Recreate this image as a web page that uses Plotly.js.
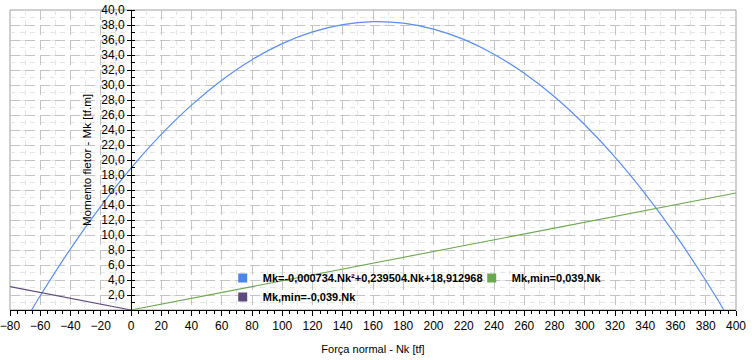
<!DOCTYPE html>
<html>
<head>
<meta charset="utf-8">
<script src="https://cdn.plot.ly/plotly-3.0.1.min.js"></script>
<style>html,body{margin:0;padding:0;background:#fff;}#chart{width:755px;height:360px;}</style>
</head>
<body>
<div id="chart"></div>
<script>
// Quadratic curve Mk(Nk)
var curveN  = [-65.7, -60, -40, -20, 0, 20, 40, 60, 80, 100, 120, 140, 160, 180, 200, 220, 240, 260, 280, 300, 320, 340, 360, 380, 392];
var curveMk = [0, 1.9, 8.16, 13.83, 18.91, 23.41, 27.32, 30.64, 33.38, 35.52, 37.08, 38.06, 38.44, 38.24, 37.45, 36.08, 34.11, 31.56, 28.43, 24.70, 20.39, 15.49, 10.01, 3.93, 0];
// Mk,min = 0,039.Nk
var posN  = [0, 400];
var posMk = [0, 15.6];
// Mk,min = -0,039.Nk
var negN  = [-80, 0];
var negMk = [3.12, 0];

var names = ['Mk=-0,000734.Nk²+0,239504.Nk+18,912968', 'Mk,min=0,039.Nk', 'Mk,min=-0,039.Nk'];
var colors = ['#4a86e8', '#6aa84f', '#604a7b'];

// y tick labels
var yTickVals = [2, 4, 6, 8, 10, 12, 14, 16, 18, 20, 22, 24, 26, 28, 30, 32, 34, 36, 38, 40];
var yTickText = ['2,0', '4,0', '6,0', '8,0', '10,0', '12,0', '14,0', '16,0', '18,0', '20,0', '22,0', '24,0', '26,0', '28,0', '30,0', '32,0', '34,0', '36,0', '38,0', '40,0'];

var traces = [
  {x: curveN, y: curveMk, mode: 'lines', line: {color: '#5a8ef0', width: 1.2, shape: 'spline'}, showlegend: false, hoverinfo: 'skip'},
  {x: posN, y: posMk, mode: 'lines', line: {color: '#6aa84f', width: 1.1}, showlegend: false, hoverinfo: 'skip'},
  {x: negN, y: negMk, mode: 'lines', line: {color: '#604a7b', width: 1.1}, showlegend: false, hoverinfo: 'skip'},
  {x: [null], y: [null], xaxis: 'x2', mode: 'lines', showlegend: false, hoverinfo: 'skip'}
];
for (var i = 0; i < names.length; i++) {
  traces.push({x: [null], y: [null], mode: 'markers', name: names[i],
    marker: {symbol: 'square', size: 9, color: colors[i]}, showlegend: true});
}

var layout = {
  width: 755, height: 360,
  margin: {l: 10, r: 19, t: 10, b: 50},
  paper_bgcolor: '#ffffff', plot_bgcolor: '#ffffff',
  separators: ',.',
  font: {family: 'Liberation Sans, Arial, sans-serif', size: 11, color: '#000'},
  showlegend: true,
  legend: {
    orientation: 'h', x: 0.293, y: 0.155, xanchor: 'left', yanchor: 'top',
    bgcolor: 'rgba(0,0,0,0)', entrywidth: 204, entrywidthmode: 'pixels',
    font: {family: 'Liberation Sans, Arial, sans-serif', size: 11, color: '#000', weight: 'bold'},
    itemwidth: 30, tracegroupgap: 0
  },
  xaxis: {
    range: [-80, 400], dtick: 20, tick0: 0,
    showline: true, linecolor: '#000', linewidth: 1,
    ticks: 'outside', ticklen: 5, tickcolor: '#000',
    showgrid: true, gridcolor: '#c4c4c4', griddash: '10px,5px', gridwidth: 1,
    minor: {dtick: 10, ticks: '', showgrid: true, gridcolor: '#e6e6e6', griddash: '5px,5px', gridwidth: 1},
    zeroline: false, ticklabeloverflow: 'allow',
    tickfont: {size: 12, color: '#000'},
    title: {text: 'Força normal - Nk [tf]', font: {size: 11, color: '#000'}, standoff: 12}
  },
  xaxis2: {
    overlaying: 'x', anchor: 'y', side: 'bottom', range: [-80, 400],
    showgrid: false, zeroline: false, showline: false, showticklabels: false,
    dtick: 5, tick0: 0, ticks: 'outside', ticklen: 3, tickcolor: '#000'
  },
  yaxis: {
    range: [0, 40], tickmode: 'array', tickvals: yTickVals, ticktext: yTickText,
    anchor: 'free', position: 80 / 480,
    showline: true, linecolor: '#000', linewidth: 1,
    ticks: 'outside', ticklen: 4, tickcolor: '#000',
    showgrid: true, gridcolor: '#c4c4c4', griddash: '10px,5px', gridwidth: 1,
    minor: {dtick: 1, tick0: 0, ticks: 'inside', ticklen: 3, tickcolor: '#000', showgrid: true, gridcolor: '#e6e6e6', griddash: '5px,5px', gridwidth: 1},
    zeroline: false,
    tickfont: {size: 12, color: '#000'},
    title: {text: 'Momento fletor - Mk [tf.m]', font: {size: 11.6, color: '#000'}, standoff: 6}
  },
  shapes: [
    {type: 'rect', xref: 'paper', yref: 'paper', x0: 0, x1: 1, y0: 0, y1: 1,
     line: {color: '#a0a0a0', width: 1}, layer: 'below'}
  ]
};

Plotly.newPlot('chart', traces, layout, {displayModeBar: false, staticPlot: true});
</script>
</body>
</html>
